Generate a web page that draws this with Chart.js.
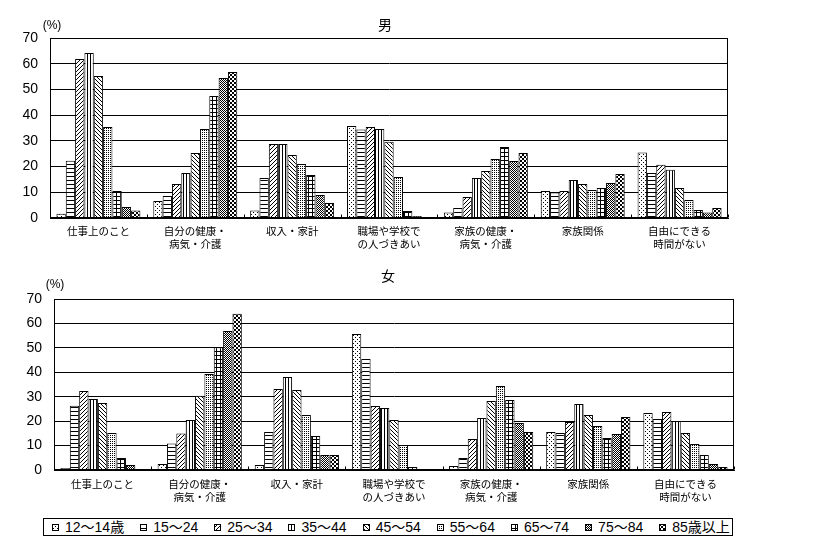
<!DOCTYPE html>
<html>
<head>
<meta charset="utf-8">
<script src="https://cdn.jsdelivr.net/npm/chart.js@4.4.1/dist/chart.umd.min.js"></script>
<style>
  body { margin: 0; background: #fff; width: 815px; height: 545px; position: relative; overflow: hidden;
         font-family: "Liberation Sans", "Noto Sans CJK JP", sans-serif; color: #000; }
  canvas { position: absolute; left: 0; }
  .txt { position: absolute; transform: translate(-50%, -50%); white-space: nowrap; line-height: 1; }
  #legend { position: absolute; left: 43px; top: 518px; width: 690px; height: 18px; box-sizing: border-box;
            border: 1px solid #000; display: flex; align-items: center; padding-left: 8px; gap: 16px;
            font-size: 14px; white-space: nowrap; overflow: hidden; }
  #legend .item { display: flex; align-items: center; gap: 6px; flex-shrink: 0; line-height: 1; }
  #legend canvas { position: static; }
</style>
</head>
<body>
<canvas id="maleChart" width="815" height="255" style="top:0"></canvas>
<canvas id="femaleChart" width="815" height="260" style="top:255px"></canvas>
<div class="txt" style="left:385px;top:25px;font-size:14px">男</div>
<div class="txt" style="left:52px;top:25px;font-size:12px">(%)</div>
<div class="txt" style="left:388px;top:276px;font-size:14px">女</div>
<div class="txt" style="left:55px;top:284px;font-size:12px">(%)</div>
<div id="legend"></div>

<script>
// カテゴリ・年齢階級
const categories = [
    "仕事上のこと",
    ["自分の健康・", "病気・介護"],
    "収入・家計",
    ["職場や学校で", "の人づきあい"],
    ["家族の健康・", "病気・介護"],
    "家族関係",
    ["自由にできる", "時間がない"]
];
const ageGroups = ["12～14歳", "15～24", "25～34", "35～44", "45～54", "55～64", "65～74", "75～84", "85歳以上"];
const yTicks = [0, 10, 20, 30, 40, 50, 60, 70];

// 男 (%)
const male12_14 = [1.7, 6.6, 2.9, 35.8, 2.1, 10.5, 25.5];
const male15_24 = [22.3, 8.6, 15.6, 34.4, 3.9, 9.9, 17.5];
const male25_34 = [61.8, 13.2, 28.8, 35.4, 8.2, 10.5, 20.7];
const male35_44 = [64.2, 17.5, 28.8, 34.6, 15.6, 14.8, 18.8];
const male45_54 = [55.2, 25.3, 24.5, 29.7, 18.3, 13.2, 11.7];
const male55_64 = [35.4, 34.6, 21.0, 15.9, 22.9, 10.9, 7.0];
const male65_74 = [10.5, 47.4, 16.7, 2.7, 27.6, 11.7, 3.1];
const male75_84 = [4.3, 54.4, 8.9, 0.8, 22.2, 13.6, 2.1];
const male85up  = [2.9, 56.8, 5.8, 0, 25.3, 17.1, 3.9];

// 女 (%)
const female12_14 = [0.8, 2.5, 2.0, 55.7, 1.6, 15.6, 23.3];
const female15_24 = [26.3, 10.8, 15.6, 45.4, 4.9, 15.1, 20.9];
const female25_34 = [32.3, 14.9, 33.2, 26.2, 12.7, 19.6, 23.7];
const female35_44 = [29.1, 20.5, 38.1, 25.4, 21.3, 27.0, 20.1];
const female45_54 = [27.4, 30.4, 32.7, 20.5, 28.2, 22.5, 15.1];
const female55_64 = [15.1, 39.3, 22.5, 10.2, 34.4, 18.0, 10.6];
const female65_74 = [4.9, 50.2, 13.9, 1.2, 28.7, 13.1, 6.1];
const female75_84 = [2.0, 56.9, 6.1, 0.4, 19.2, 14.7, 2.5];
const female85up  = [0, 64.0, 6.1, 0.4, 15.6, 21.7, 1.2];

const maleSeries = [male12_14, male15_24, male25_34, male35_44, male45_54, male55_64, male65_74, male75_84, male85up];
const femaleSeries = [female12_14, female15_24, female25_34, female35_44, female45_54, female55_64, female65_74, female75_84, female85up];

// 白黒の塗りパターン (タイルの黒ピクセル)
function tile(w, h, pixels) {
    const c = document.createElement("canvas");
    c.width = w; c.height = h;
    const g = c.getContext("2d");
    g.fillStyle = "#fff"; g.fillRect(0, 0, w, h);
    g.fillStyle = "#000";
    pixels.forEach(([x, y]) => g.fillRect(x, y, 1, 1));
    return c;
}
const tiles = [
    tile(4, 4, [[1, 0], [3, 2]]),                                   // 点 (疎)
    tile(1, 4, [[0, 0]]),                                           // 横線
    tile(4, 4, [[3, 0], [2, 1], [1, 2], [0, 3]]),                   // 斜線 /
    tile(3, 1, [[0, 0]]),                                           // 縦線
    tile(4, 4, [[0, 0], [1, 1], [2, 2], [3, 3]]),                   // 斜線 \
    tile(2, 2, [[0, 0]]),                                           // 点 (密)
    tile(4, 4, [[0, 0], [1, 0], [2, 0], [3, 0], [0, 1], [0, 2], [0, 3]]), // 格子
    tile(2, 2, [[0, 0], [1, 1]]),                                   // 細かい市松
    tile(4, 4, [[0, 0], [1, 0], [0, 1], [1, 1], [2, 2], [3, 2], [2, 3], [3, 3]]) // 市松
];

const frameAndTicks = {
    id: "frameAndTicks",
    afterDraw(chart) {
        const { ctx, chartArea: a } = chart;
        const xs = chart.scales.x;
        ctx.save();
        ctx.strokeStyle = "#000";
        ctx.lineWidth = 1;
        const l = Math.round(a.left) + 0.5, r = Math.round(a.right) - 0.5;
        const t = Math.round(a.top) + 0.5, b = Math.round(a.bottom) - 0.5;
        ctx.strokeRect(l, t, r - l, b - t);
        ctx.beginPath();
        for (let i = 0; i <= categories.length; i++) {
            const x = Math.round(xs.getPixelForValue(i - 0.5)) + 0.5;
            ctx.moveTo(x, b);
            ctx.lineTo(x, b - 3);
        }
        ctx.stroke();
        ctx.restore();
    }
};

function makeChart(id, series, pad, yWidth, xHeight, labelPad) {
    const ctx = document.getElementById(id).getContext("2d");
    return new Chart(ctx, {
        type: "bar",
        data: {
            labels: categories,
            datasets: series.map((vals, i) => ({
                label: ageGroups[i],
                data: vals,
                backgroundColor: ctx.createPattern(tiles[i], "repeat"),
                borderColor: "#000",
                borderWidth: 1,
                barPercentage: 1,
                categoryPercentage: 0.867
            }))
        },
        options: {
            responsive: false,
            animation: false,
            devicePixelRatio: 1,
            layout: { padding: pad },
            plugins: { legend: { display: false }, tooltip: { enabled: false } },
            scales: {
                x: {
                    grid: { display: false, drawTicks: false },
                    border: { display: true, color: "#000", width: 1 },
                    ticks: { color: "#000", font: { size: 10.5 }, padding: labelPad, maxRotation: 0, autoSkip: false },
                    afterFit(s) { s.height = xHeight; }
                },
                y: {
                    min: yTicks[0],
                    max: yTicks[yTicks.length - 1],
                    afterBuildTicks(s) { s.ticks = yTicks.map(v => ({ value: v })); },
                    grid: { color: "#000", lineWidth: 1, drawTicks: false },
                    border: { display: true, color: "#000", width: 1 },
                    ticks: { color: "#000", font: { size: 14 }, padding: 12 },
                    afterFit(s) { s.width = yWidth; }
                }
            }
        },
        plugins: [frameAndTicks]
    });
}

Chart.defaults.font.family = '"Liberation Sans", "Noto Sans CJK JP", sans-serif';

makeChart("maleChart", maleSeries, { left: 0, right: 87, top: 38, bottom: 0 }, 50, 37, 8);
makeChart("femaleChart", femaleSeries, { left: 0, right: 81, top: 44, bottom: 0 }, 54, 45, 9);

// 凡例
const legend = document.getElementById("legend");
ageGroups.forEach((name, i) => {
    const item = document.createElement("div");
    item.className = "item";
    const sw = document.createElement("canvas");
    sw.width = 7; sw.height = 7;
    const g = sw.getContext("2d");
    g.fillStyle = g.createPattern(tiles[i], "repeat");
    g.fillRect(0, 0, 7, 7);
    g.strokeStyle = "#000";
    g.strokeRect(0.5, 0.5, 6, 6);
    const span = document.createElement("span");
    span.textContent = name;
    item.appendChild(sw);
    item.appendChild(span);
    legend.appendChild(item);
});
</script>
</body>
</html>
